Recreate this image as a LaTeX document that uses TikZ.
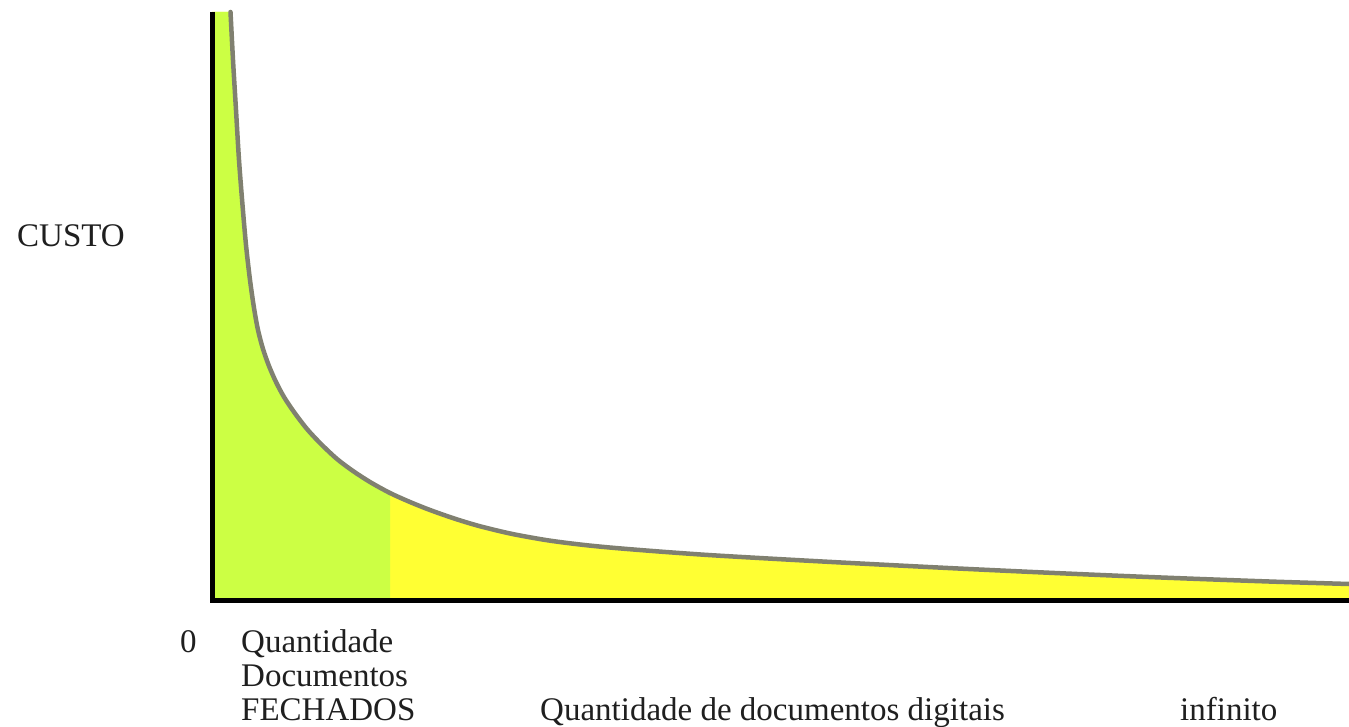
\documentclass[tikz,border=0pt]{standalone}
\usepackage{fontspec}
\setmainfont{Liberation Serif}
\definecolor{areagreen}{RGB}{204,255,68}
\definecolor{areayellow}{RGB}{255,255,51}
\definecolor{curvegray}{RGB}{128,128,112}
\begin{document}
\begin{tikzpicture}[x=1pt,y=-1pt,
  lbl/.style={inner sep=0pt,anchor=base west,font=\fontsize{33}{34}\selectfont,text=black!88},
  axisline/.style={line width=5pt,black},
  costcurve/.style={line width=4.5pt,curvegray,line cap=round}]
\useasboundingbox[fill=white] (0,0) rectangle (1349,727);
\def\curvepts{(230.5,12) (233,60) (236,110) (239,160) (242.5,205) (246,245) (250,280) (254,308) (258,330) (263,349) (269,366) (276,382) (284,397) (294,412) (307,429) (321,444) (337,459) (353,471) (370,482) (390,493) (410,502) (430,510) (455,518.75) (480,526.25) (512,533.9) (547,540.2) (580,544.5) (613,547.8) (663,551.8) (713,555.3) (786,559.5) (860,563.5) (954,568.3) (1048,572.7) (1124,576) (1200,579) (1275,581.7) (1349,584)}
% yellow region under the curve
\fill[areayellow] (212,12) -- plot[smooth] coordinates {\curvepts} -- (1349,600) -- (212,600) -- cycle;
% green part (closed documents)
\begin{scope}
  \clip (212,0) rectangle (390,600);
  \fill[areagreen] (212,12) -- plot[smooth] coordinates {\curvepts} -- (1349,600) -- (212,600) -- cycle;
\end{scope}
% the cost curve
\draw[costcurve] plot[smooth] coordinates {\curvepts};
% axes
\coordinate (top) at (212,12);
\coordinate (orig) at (212,600);
\coordinate (xend) at (1349,600);
\draw[axisline,line join=miter] (top) -- (orig) -- (xend);
% labels
\node[lbl] (custo) at (17,247) {CUSTO};
\node[lbl] (zero) at (180,652) {0};
\node[lbl] (q1) at (241,652) {Quantidade};
\node[lbl] (q2) at (241,686) {Documentos};
\node[lbl] (q3) at (241,720) {FECHADOS};
\node[lbl] (digital) at (540,720) {Quantidade de documentos digitais};
\node[lbl] (inf) at (1180,720) {infinito};
\end{tikzpicture}
\end{document}
